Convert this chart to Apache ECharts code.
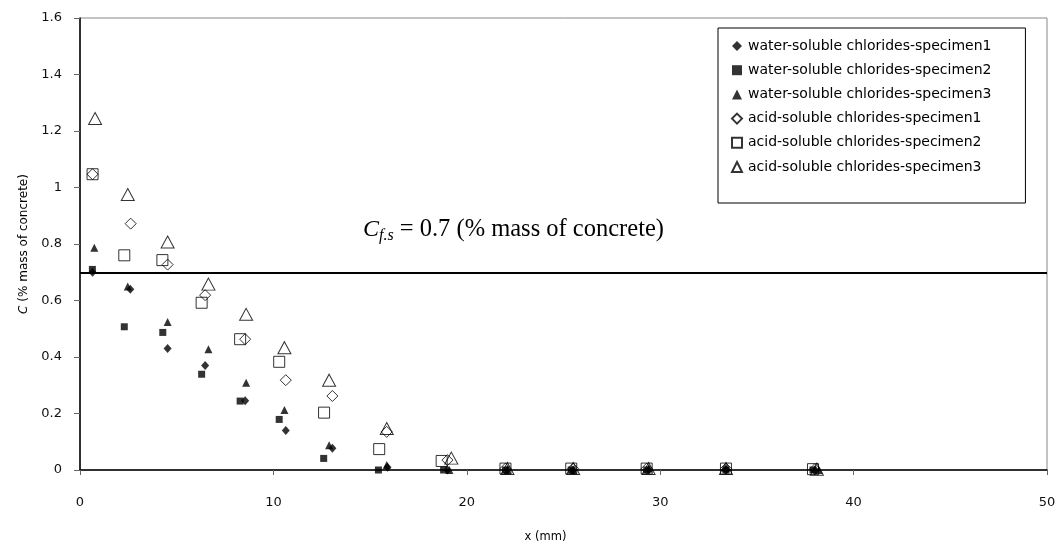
<!DOCTYPE html>
<html>
<head>
<meta charset="utf-8">
<script src="https://cdn.jsdelivr.net/npm/echarts@6/dist/echarts.min.js"></script>
<style>html,body{margin:0;padding:0;background:#fff;}#chart{width:1060px;height:552px;}</style>
</head>
<body>
<div id="chart"></div>
<script>
// Data (x in mm, C in % mass of concrete)
const seriesNames = [
  'water-soluble chlorides-specimen1',
  'water-soluble chlorides-specimen2',
  'water-soluble chlorides-specimen3',
  'acid-soluble chlorides-specimen1',
  'acid-soluble chlorides-specimen2',
  'acid-soluble chlorides-specimen3'
];
const water1 = [[0.65,0.70],[2.6,0.64],[4.53,0.43],[6.47,0.37],[8.54,0.245],[10.64,0.14],[13.05,0.077],[15.9,0.01],[19.0,0.0],[22.1,0.0],[25.5,0.0],[29.4,0.0],[33.4,0.0],[38.0,0.0]];
const water2 = [[0.64,0.71],[2.29,0.507],[4.28,0.487],[6.29,0.339],[8.28,0.244],[10.3,0.179],[12.6,0.041],[15.43,0.0],[18.8,0.0],[22.0,0.0],[25.4,0.0],[29.3,0.0],[33.4,0.0],[37.9,0.0]];
const water3 = [[0.74,0.787],[2.47,0.65],[4.53,0.524],[6.64,0.427],[8.59,0.309],[10.57,0.212],[12.88,0.088],[15.86,0.018],[19.1,0.0],[22.1,0.0],[25.5,0.0],[29.4,0.005],[33.4,0.008],[38.2,0.0]];
const acid1 = [[0.65,1.047],[2.62,0.872],[4.53,0.727],[6.47,0.619],[8.54,0.463],[10.64,0.318],[13.05,0.262],[15.86,0.135],[19.0,0.035],[22.0,0.005],[25.5,0.005],[29.3,0.005],[33.4,0.005],[38.0,0.003]];
const acid2 = [[0.65,1.047],[2.29,0.76],[4.26,0.743],[6.29,0.592],[8.28,0.463],[10.3,0.383],[12.62,0.203],[15.47,0.074],[18.7,0.032],[22.0,0.005],[25.4,0.005],[29.3,0.005],[33.4,0.005],[37.9,0.003]];
const acid3 = [[0.78,1.244],[2.47,0.975],[4.53,0.807],[6.64,0.658],[8.59,0.551],[10.57,0.433],[12.88,0.318],[15.86,0.147],[19.2,0.042],[22.1,0.005],[25.5,0.005],[29.4,0.005],[33.4,0.005],[38.1,0.003]];
const thresholdValue = 0.7;
const xTicks = {min: 0, max: 50, interval: 10};
const yTicks = {min: 0, max: 1.6, interval: 0.2};

const textFont = '"DejaVu Sans", Verdana, sans-serif';
const axisFont = '"DejaVu Sans", Verdana, sans-serif';
const serifFont = '"Liberation Serif", "Times New Roman", serif';

function filled(name, data, symbol, size) {
  return {name, type: 'scatter', data, symbol, symbolSize: size,
    itemStyle: {color: '#000', borderWidth: 0}, emphasis: {disabled: true}};
}
function open(name, data, symbol, size) {
  return {name, type: 'scatter', data, symbol, symbolSize: size,
    itemStyle: {color: 'rgba(255,255,255,0)', borderColor: '#000', borderWidth: 1}, emphasis: {disabled: true}};
}

const series = [
  filled(seriesNames[0], water1, 'diamond', [8, 9]),
  filled(seriesNames[1], water2, 'rect', [7, 7]),
  filled(seriesNames[2], water3, 'triangle', [8, 8]),
  open(seriesNames[3], acid1, 'diamond', [11, 11]),
  open(seriesNames[4], acid2, 'rect', [11, 11]),
  open(seriesNames[5], acid3, 'triangle', [13, 12])
];
series[0].markLine = {
  silent: true, symbol: 'none', animation: false,
  lineStyle: {color: '#000', width: 2, type: 'solid'},
  label: {show: false},
  data: [{yAxis: thresholdValue}]
};

const chart = echarts.init(document.getElementById('chart'), null, {renderer: 'canvas'});
chart.setOption({
  animation: false,
  backgroundColor: '#fff',
  grid: {left: 80, right: 13, top: 18, bottom: 82, show: true, borderColor: '#888', borderWidth: 1, backgroundColor: 'transparent'},
  xAxis: {
    type: 'value', min: xTicks.min, max: xTicks.max, interval: xTicks.interval,
    name: 'x (mm)', nameLocation: 'middle', nameGap: 61,
    nameTextStyle: {fontFamily: textFont, fontSize: 11.5, color: '#000', padding: [0, 36, 0, 0]},
    axisLine: {lineStyle: {color: '#000', width: 1.5}},
    axisTick: {inside: false, length: 5, lineStyle: {color: '#666'}},
    axisLabel: {margin: 26, fontFamily: axisFont, fontSize: 13, color: '#111'},
    splitLine: {show: false}
  },
  yAxis: {
    type: 'value', min: yTicks.min, max: yTicks.max, interval: yTicks.interval,
    name: '{i|C} (% mass of concrete)', nameLocation: 'middle', nameGap: 50,
    nameTextStyle: {fontFamily: textFont, fontSize: 12, color: '#000',
      rich: {i: {fontFamily: textFont, fontSize: 12, fontStyle: 'italic', color: '#000'}}},
    axisLine: {show: true, lineStyle: {color: '#000', width: 1.5}},
    axisTick: {show: true, inside: false, length: 6, lineStyle: {color: '#666'}},
    axisLabel: {margin: 18, fontFamily: axisFont, fontSize: 13, color: '#111',
      formatter: v => (Math.round(v * 10) / 10).toString()},
    splitLine: {show: false}
  },
  legend: {
    show: true, orient: 'vertical', left: 718, top: 28,
    backgroundColor: '#fff', borderColor: '#000', borderWidth: 1,
    padding: [11, 34, 29, 13], itemGap: 10.2, itemWidth: 10, itemHeight: 10,
    textStyle: {fontFamily: textFont, fontSize: 14, color: '#000', padding: [0, 0, 0, 1]},
    data: seriesNames,
    selectedMode: false
  },
  graphic: [{
    type: 'text', left: 363, top: 217, silent: true,
    style: {
      text: '{c|C}{s|f.s}{n| = 0.7 (% mass of concrete)}',
      rich: {
        c: {fontFamily: serifFont, fontStyle: 'italic', fontSize: 24, fill: '#000'},
        s: {fontFamily: serifFont, fontStyle: 'italic', fontSize: 16, fill: '#000', verticalAlign: 'bottom', padding: [12, 0, 0, 0]},
        n: {fontFamily: serifFont, fontSize: 24.5, fill: '#000'}
      }
    }
  }],
  series
});
</script>
</body>
</html>
